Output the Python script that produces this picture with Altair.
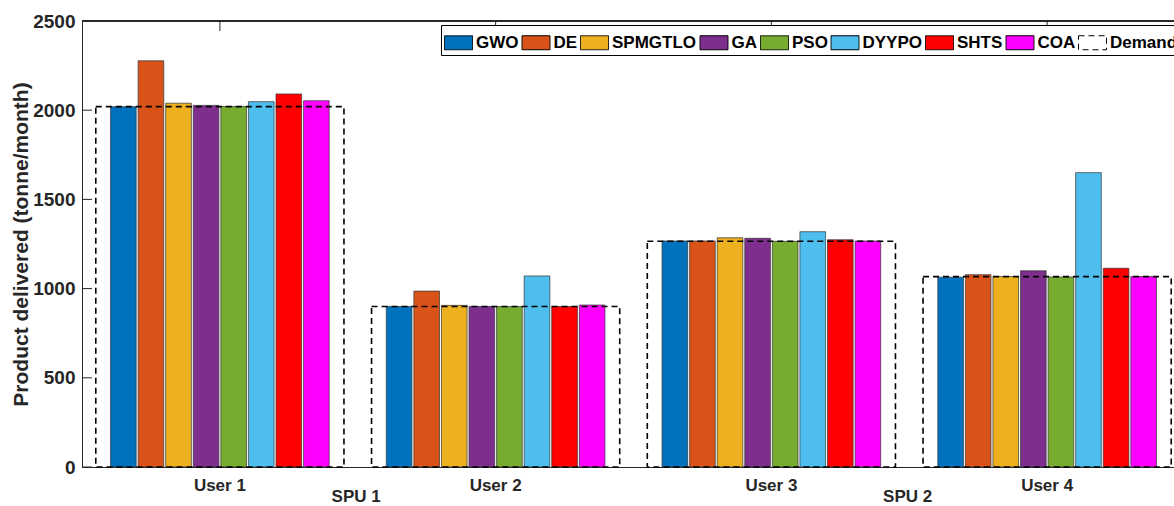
import altair as alt
import pandas as pd

users = ["User 1", "User 2", "User 3", "User 4"]
algorithms = ["GWO", "DE", "SPMGTLO", "GA", "PSO", "DYYPO", "SHTS", "COA"]
gwo = [2020, 900, 1267, 1064]
de = [2277, 986, 1267, 1078]
spmgtlo = [2039, 906, 1285, 1068]
ga = [2027, 900, 1282, 1100]
pso = [2021, 899, 1265, 1065]
dyypo = [2048, 1071, 1319, 1650]
shts = [2091, 900, 1274, 1114]
coa = [2053, 908, 1267, 1068]
demand = [2020, 900, 1265, 1067]
series_domain = algorithms + ["Demand"]
colors = ["#0072BD", "#D95319", "#EDB120", "#7E2F8E", "#77AC30", "#4DBEEE", "#FF0000", "#FF00FF", "#FFFFFF"]
dashes = [[1, 0]] * 8 + [[6, 4]]
y_ticks = [0, 500, 1000, 1500, 2000, 2500]
spu_users = ["User 1", "User 3"]
spu_labels = ["SPU 1", "SPU 2"]

rows = []
for alg, vals in zip(algorithms, [gwo, de, spmgtlo, ga, pso, dyypo, shts, coa]):
    for u, v in zip(users, vals):
        rows.append({"User": u, "Series": alg, "Value": v})
bars_df = pd.DataFrame(rows)
demand_df = pd.DataFrame({"User": users, "Series": ["Demand"] * len(users), "Value": demand})
ytick_df = pd.DataFrame({"Value": y_ticks})
utick_df = pd.DataFrame({"User": users})
spu_df = pd.DataFrame({"User": spu_users, "SPU": spu_labels})

FONT = "Liberation Sans"
INK = "#262626"
W, H = 1092, 446

x_scale = alt.Scale(domain=users, paddingInner=0.2, paddingOuter=0.1, range=[0, 1103])
x_axis = alt.Axis(title=None, labelAngle=0, ticks=False, tickSize=0, labelPadding=10,
                  labelFont=FONT, labelFontSize=17, labelFontWeight="bold", labelColor=INK,
                  domainColor=INK, domainWidth=1, grid=False)
x_enc = alt.X("User:N", scale=x_scale, axis=x_axis, sort=users)
y_axis = alt.Axis(title="Product delivered (tonne/month)", values=y_ticks, format="d", grid=False,
                  ticks=False, tickSize=0, labelPadding=7, labelFont=FONT, labelFontSize=19,
                  labelFontWeight="bold", labelColor=INK, titleFont=FONT, titleFontSize=21,
                  titleFontWeight="bold", titleColor=INK, titlePadding=1,
                  domainColor=INK, domainWidth=1)
y_enc = alt.Y("Value:Q", scale=alt.Scale(domain=[0, 2500], nice=False, zero=True), axis=y_axis)

legend_def = alt.Legend(title=None, orient="none", legendX=359, legendY=4, direction="horizontal",
                        columns=9, symbolType="M-1,-0.5H1V0.5H-1Z", symbolSize=784,
                        labelFont=FONT, labelFontSize=17, labelFontWeight="bold", labelColor="black",
                        columnPadding=0.5, labelOffset=3, padding=3, strokeColor="black",
                        fillColor="white", symbolStrokeColor="black", symbolStrokeWidth=1)

bars = alt.Chart(bars_df).mark_bar(stroke="#333333", strokeWidth=0.7).encode(
    x=x_enc,
    xOffset=alt.XOffset("Series:N", sort=algorithms,
                        scale=alt.Scale(domain=algorithms, paddingInner=0.07, paddingOuter=0.035)),
    y=y_enc,
    color=alt.Color("Series:N", scale=alt.Scale(domain=series_domain, range=colors), legend=legend_def),
)

demand_layer = alt.Chart(demand_df).mark_bar(
    filled=False, stroke="black", strokeWidth=1.6, width=alt.RelativeBandSize(1.125)
).encode(
    x=x_enc,
    y=y_enc,
    strokeDash=alt.StrokeDash("Series:N", scale=alt.Scale(domain=series_domain, range=dashes),
                              legend=legend_def),
)

spu_text = alt.Chart(spu_df).mark_text(
    font=FONT, fontSize=17, fontWeight="bold", color=INK, baseline="alphabetic", dx=26
).encode(
    x=alt.X("User:N", scale=x_scale, axis=x_axis, sort=users, bandPosition=1),
    y=alt.value(H + 35),
    text="SPU:N",
)

ytick_rules = alt.Chart(ytick_df).mark_rule(color=INK, strokeWidth=1).encode(
    y=y_enc, x=alt.value(0), x2=alt.value(10)
)
utick_rules = alt.Chart(utick_df).mark_rule(color=INK, strokeWidth=1).encode(
    x=x_enc, y=alt.value(0), y2=alt.value(10)
)
top_line = alt.Chart(ytick_df).mark_rule(color=INK, strokeWidth=1).encode(
    y=alt.datum(2500), x=alt.value(0), x2=alt.value(W)
)

chart = alt.layer(bars, demand_layer, spu_text, ytick_rules, utick_rules, top_line).properties(
    width=W, height=H,
    autosize=alt.AutoSizeParams(type="none"),
    padding={"left": 82, "top": 21, "right": 0, "bottom": 39},
    background="white",
).configure_view(strokeWidth=0)

chart.save("out.html", embed_options={"renderer": "svg", "actions": False})
